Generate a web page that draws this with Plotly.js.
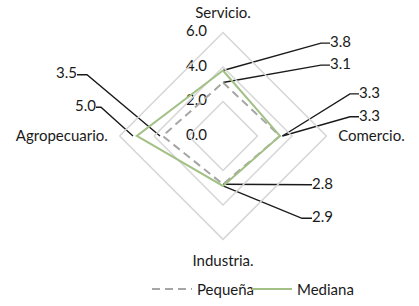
<!DOCTYPE html>
<html>
<head>
<meta charset="utf-8">
<script src="https://cdn.plot.ly/plotly-3.0.1.min.js"></script>
<style>
  html, body { margin: 0; padding: 0; background: #ffffff; }
  #chart { width: 419px; height: 306px; }
</style>
</head>
<body>
<div id="chart"></div>
<script>
// ---- Data ----
const categories = ['Servicio.', 'Comercio.', 'Industria.', 'Agropecuario.'];
const pequena = [3.1, 3.3, 2.8, 3.5];
const mediana = [3.8, 3.3, 2.9, 5.0];
const seriesNames = ['Pequeña', 'Mediana'];
const radialTicks = [0, 2, 4, 6];

// ---- Layout geometry (pixels) ----
const W = 419, H = 306;
const CX = 223, CY = 142;       // centre of the radar
const S = 18;                   // pixels per radial unit
const RMAX = 6;
const R = RMAX * S;

const FONT = 'Lato, "Open Sans", sans-serif';
const FS = 15;
const TXT = '#1a1a1a';
const GREEN = '#a3c187';
const GRAY = '#a6a6a6';
const GRID = '#d6d6d6';

function ux(px) { return (px - CX) / S; }
function uy(py) { return (CY - py) / S; }

// label placement for the data labels (elbow and end of leader, in px)
const leaders = [
  { s: 1, i: 0, elbow: [321, 45],  end: [330, 45],  side: 'right' },
  { s: 0, i: 0, elbow: [321, 68],  end: [330, 68],  side: 'right' },
  { s: 1, i: 1, elbow: [350, 98],  end: [359, 98],  side: 'right' },
  { s: 0, i: 1, elbow: [350, 122], end: [359, 122], side: 'right' },
  { s: 0, i: 2, elbow: [300, 193], end: [312, 193], side: 'right' },
  { s: 1, i: 2, elbow: [302, 228], end: [312, 228], side: 'right' },
  { s: 0, i: 3, elbow: [87, 78],   end: [77, 78],   side: 'left' },
  { s: 1, i: 3, elbow: [101, 112], end: [96, 112],  side: 'left' }
];
const seriesVals = [pequena, mediana];

const traces = [
  {
    type: 'scatterpolar',
    name: seriesNames[0],
    r: pequena.concat([pequena[0]]),
    theta: categories.concat([categories[0]]),
    mode: 'lines',
    line: { color: GRAY, width: 2, dash: '8px,5px' },
    hoverinfo: 'skip',
    legend: 'legend'
  },
  {
    type: 'scatterpolar',
    name: seriesNames[1],
    r: mediana.concat([mediana[0]]),
    theta: categories.concat([categories[0]]),
    mode: 'lines',
    line: { color: GREEN, width: 2 },
    hoverinfo: 'skip',
    legend: 'legend2'
  }
];

// radial axis value labels, placed at the tick values along the upward spoke
traces.push({
  type: 'scatter',
  xaxis: 'x', yaxis: 'y',
  x: radialTicks.map(function () { return ux(CX - 16); }),
  y: radialTicks.slice(),
  mode: 'text',
  text: radialTicks.map(function (t) { return t.toFixed(1); }),
  textposition: 'middle left',
  textfont: { family: FONT, size: FS, color: TXT },
  showlegend: false,
  hoverinfo: 'skip',
  cliponaxis: false
});

leaders.forEach(function (L) {
  const v = seriesVals[L.s][L.i];
  const ang = (90 - 90 * L.i) * Math.PI / 180;
  const px0 = v * Math.cos(ang), py0 = v * Math.sin(ang);
  traces.push({
    type: 'scatter',
    xaxis: 'x', yaxis: 'y',
    x: [px0, ux(L.elbow[0]), ux(L.end[0])],
    y: [py0, uy(L.elbow[1]), uy(L.end[1])],
    mode: 'lines+text',
    text: ['', '', v.toFixed(1)],
    textposition: L.side === 'right' ? 'middle right' : 'middle left',
    textfont: { family: FONT, size: FS, color: TXT },
    line: { color: '#1a1a1a', width: 1.4 },
    showlegend: false,
    hoverinfo: 'skip',
    cliponaxis: false
  });
});

const legendBase = {
  orientation: 'h',
  xanchor: 'left',
  y: 4 / H, yanchor: 'middle',
  itemwidth: 40,
  font: { family: FONT, size: FS, color: TXT },
  bgcolor: 'rgba(0,0,0,0)'
};

const layout = {
  width: W, height: H,
  margin: { l: 0, r: 0, t: 0, b: 0, pad: 0 },
  paper_bgcolor: '#ffffff',
  plot_bgcolor: 'rgba(0,0,0,0)',
  font: { family: FONT, size: FS, color: TXT },
  showlegend: true,
  legend: Object.assign({}, legendBase, { x: 147 / W }),
  legend2: Object.assign({}, legendBase, { x: 247 / W }),
  xaxis: {
    domain: [0, 1],
    range: [ux(0), ux(W)],
    visible: false, fixedrange: true
  },
  yaxis: {
    domain: [0, 1],
    range: [uy(H), uy(0)],
    visible: false, fixedrange: true
  },
  polar: {
    domain: {
      x: [(CX - R) / W, (CX + R) / W],
      y: [(H - CY - R) / H, (H - CY + R) / H]
    },
    bgcolor: 'rgba(0,0,0,0)',
    gridshape: 'linear',
    radialaxis: {
      range: [0, RMAX],
      tickvals: radialTicks,
      showticklabels: false,
      angle: 90,
      showline: false,
      ticks: '',
      showgrid: true,
      gridcolor: GRID,
      gridwidth: 1.5
    },
    angularaxis: {
      type: 'category',
      categoryarray: categories,
      direction: 'clockwise',
      rotation: 90,
      showgrid: false,
      showline: true,
      linecolor: GRID,
      linewidth: 1.5,
      ticks: 'outside',
      ticklen: 8,
      tickcolor: 'rgba(0,0,0,0)',
      tickfont: { family: FONT, size: FS, color: TXT }
    }
  }
};

Plotly.newPlot('chart', traces, layout, { staticPlot: true, displayModeBar: false });
</script>
</body>
</html>
